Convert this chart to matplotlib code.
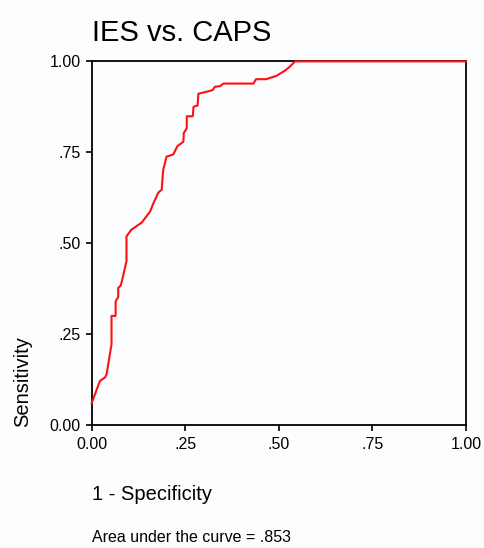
import matplotlib
matplotlib.use("Agg")
import matplotlib.pyplot as plt

# ROC curve points
fpr = [0.000, 0.022, 0.036, 0.040, 0.053, 0.053, 0.064, 0.064, 0.071, 0.071,
       0.078, 0.093, 0.093, 0.106, 0.134, 0.156, 0.165, 0.178, 0.187, 0.191,
       0.200, 0.218, 0.229, 0.245, 0.246, 0.254, 0.254, 0.270, 0.272, 0.283,
       0.285, 0.309, 0.323, 0.329, 0.343, 0.352, 0.432, 0.439, 0.466, 0.493,
       0.517, 0.530, 0.543, 1.000]
tpr = [0.060, 0.121, 0.131, 0.140, 0.222, 0.300, 0.300, 0.340, 0.352, 0.377,
       0.384, 0.450, 0.519, 0.537, 0.557, 0.587, 0.610, 0.639, 0.647, 0.701,
       0.738, 0.744, 0.767, 0.779, 0.803, 0.816, 0.849, 0.849, 0.875, 0.879,
       0.911, 0.917, 0.921, 0.930, 0.932, 0.939, 0.939, 0.951, 0.951, 0.960,
       0.975, 0.986, 1.000, 1.000]

ticks = [0.0, 0.25, 0.5, 0.75, 1.0]
tick_labels = ["0.00", ".25", ".50", ".75", "1.00"]

plt.rcParams["font.family"] = ["Liberation Sans", "DejaVu Sans"]

fig = plt.figure(figsize=(4.85, 5.48), dpi=100, facecolor="#fcfdff")
ax = fig.add_axes([0.189, 0.2245, 0.772, 0.6635])
ax.set_facecolor("#fcfdff")

ax.plot(fpr, tpr, color="#ff1010", linewidth=1.5, clip_on=False, zorder=5)

ax.set_xlim(0, 1)
ax.set_ylim(0, 1)
ax.set_xticks(ticks)
ax.set_xticklabels(tick_labels)
ax.set_yticks(ticks)
ax.set_yticklabels(tick_labels)
ax.tick_params(direction="out", length=4, width=1.2, labelsize=11.5)
ax.tick_params(axis="x", pad=5)
ax.tick_params(axis="y", pad=4)
for s in ax.spines.values():
    s.set_linewidth(1.3)
    s.set_color("black")

fig.text(92 / 485, 1 - 33 / 548, "IES vs. CAPS", fontsize=21,
         ha="left", va="center")
fig.text(92 / 485, 1 - 494 / 548, "1 - Specificity", fontsize=14.5,
         ha="left", va="center")
fig.text(22.5 / 485, 1 - 427 / 548, "Sensitivity", fontsize=14.5,
         rotation=90, ha="center", va="bottom")
fig.text(92 / 485, 1 - 537 / 548, "Area under the curve = .853", fontsize=11.5,
         ha="left", va="center")

fig.savefig("out.png", dpi=100, facecolor=fig.get_facecolor())
